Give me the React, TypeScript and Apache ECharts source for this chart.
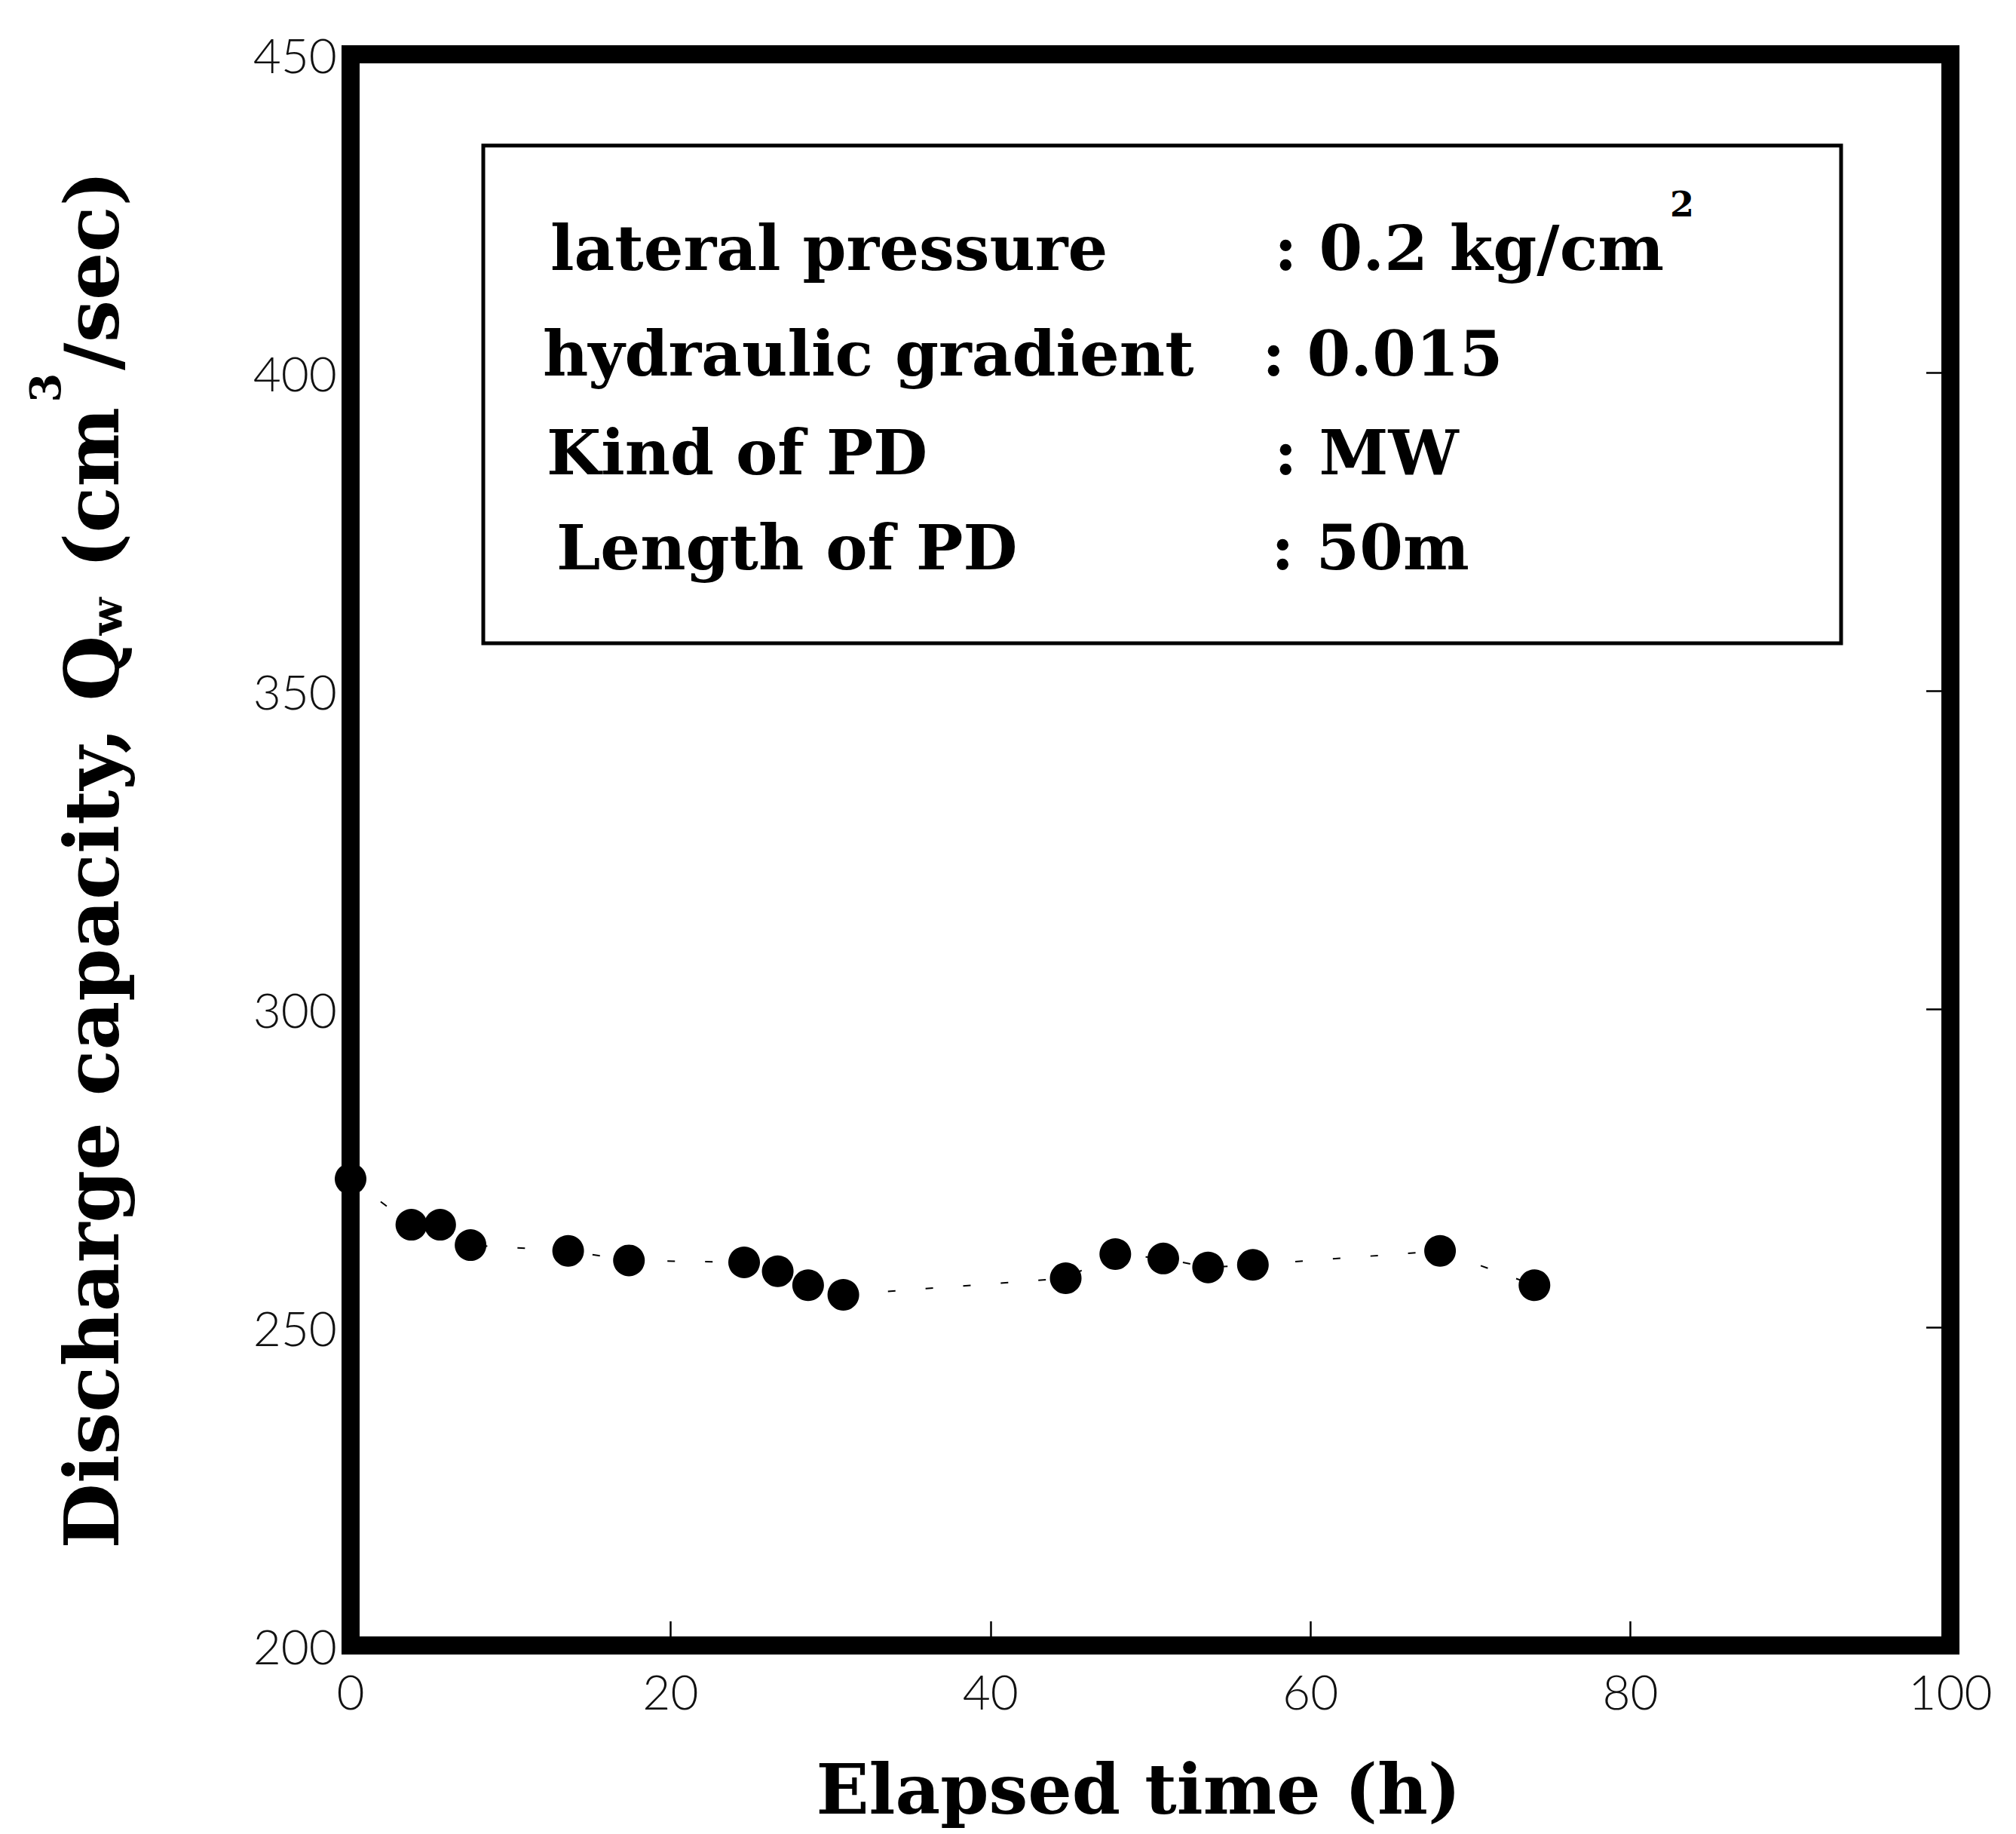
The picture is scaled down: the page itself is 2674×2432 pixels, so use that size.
import React, { useEffect, useRef } from "react";
import * as echarts from "echarts";

// ---- data ----
const timeH = [0, 3.8, 5.6, 7.5, 13.6, 17.4, 24.6, 26.7, 28.6, 30.8, 44.7, 47.8, 50.8, 53.6, 56.4, 68.1, 74.0];
const dischargeQw = [273.3, 266.1, 266.1, 262.9, 262.0, 260.5, 260.2, 258.8, 256.6, 255.1, 257.7, 261.5, 260.8, 259.4, 259.8, 262.0, 256.6];
const xTickValues = [0, 20, 40, 60, 80, 100];
const yTickValues = [200, 250, 300, 350, 400, 450];
const infoLabels = ["lateral pressure", "hydraulic gradient", "Kind of PD", "Length of PD"];
const infoValues = ["{n|: 0.2 kg/cm}{sup|2}", "{n|: 0.015}", "{n|: MW}", "{n|: 50m}"];
const xTitle = "Elapsed time (h)";
const yTitleRich = "{n|Discharge capacity, Q}{sub|w}{n| (cm}{sup|3}{n|/sec)}";

// ---- layout ----
const W = 2674;
const H = 2432;
const infoLabelPos = [
  [730, 329],
  [720, 469],
  [725, 600],
  [738, 726],
];
const infoValueX = [1690, 1674, 1690, 1686];

const SERIF = "'DejaVu Serif', serif";
const THIN = "Lato, 'DejaVu Sans', sans-serif";

export default function App() {
  const ref = useRef<HTMLDivElement>(null);

  useEffect(() => {
    document.body.style.margin = "0";
    if (!ref.current) return;
    const chart = echarts.init(ref.current, null, { renderer: "svg" });

    const infoFont = { fontFamily: SERIF, fontWeight: "bold", fontSize: 83, fill: "#000" };
    const richInfo = {
      n: { fontFamily: SERIF, fontWeight: "bold", fontSize: 83, lineHeight: 98, color: "#000", verticalAlign: "middle" },
      sup: {
        fontFamily: SERIF,
        fontWeight: "bold",
        fontSize: 46,
        lineHeight: 46,
        color: "#000",
        verticalAlign: "middle",
        padding: [0, 0, 116, 8],
      },
    };

    const graphics: any[] = [
      {
        type: "rect",
        shape: { x: 641, y: 193, width: 1801, height: 660 },
        style: { fill: "none", stroke: "#000", lineWidth: 5 },
        z: 10,
      },
    ];
    infoLabels.forEach((lab, i) => {
      graphics.push({
        type: "text",
        x: infoLabelPos[i][0],
        y: infoLabelPos[i][1],
        z: 10,
        style: {
          text: lab,
          ...infoFont,
          align: "left",
          verticalAlign: "middle",
          textAlign: "left",
          textVerticalAlign: "middle",
        },
      });
      graphics.push({
        type: "text",
        x: infoValueX[i],
        y: infoLabelPos[i][1],
        z: 10,
        style: {
          text: infoValues[i],
          rich: richInfo,
          ...infoFont,
          align: "left",
          verticalAlign: "middle",
          textAlign: "left",
          textVerticalAlign: "middle",
        },
      });
    });

    graphics.push({
      type: "text",
      x: 1510,
      y: 2373,
      z: 10,
      style: {
        text: xTitle,
        fontFamily: SERIF,
        fontWeight: "bold",
        fontSize: 92,
        fill: "#000",
        align: "center",
        verticalAlign: "middle",
        textAlign: "center",
        textVerticalAlign: "middle",
      },
    });

    graphics.push({
      type: "text",
      x: 122,
      y: 1140,
      rotation: Math.PI / 2,
      z: 10,
      style: {
        text: yTitleRich,
        fontFamily: SERIF,
        fontWeight: "bold",
        fontSize: 100,
        fill: "#000",
        align: "center",
        verticalAlign: "middle",
        textAlign: "center",
        textVerticalAlign: "middle",
        rich: {
          n: { fontFamily: SERIF, fontWeight: "bold", fontSize: 100, lineHeight: 118, color: "#000", verticalAlign: "middle" },
          sub: {
            fontFamily: SERIF,
            fontWeight: "bold",
            fontSize: 58,
            lineHeight: 58,
            color: "#000",
            verticalAlign: "middle",
            padding: [40, 4, 0, 0],
          },
          sup: {
            fontFamily: SERIF,
            fontWeight: "bold",
            fontSize: 56,
            lineHeight: 56,
            color: "#000",
            verticalAlign: "middle",
            padding: [0, 4, 124, 6],
          },
        },
      },
    });

    const labelStyle = {
      fontFamily: THIN,
      fontWeight: 300,
      fontSize: 64,
      color: "#111",
    };

    const option: any = {
      animation: false,
      backgroundColor: "#fff",
      grid: {
        left: 465,
        top: 72,
        right: W - 2587,
        bottom: H - 2182,
        show: true,
        borderColor: "#000",
        borderWidth: 24,
        backgroundColor: "transparent",
        containLabel: false,
        outerBoundsMode: "none",
      },
      xAxis: [
        {
          type: "value",
          min: xTickValues[0],
          max: xTickValues[xTickValues.length - 1],
          interval: xTickValues[1] - xTickValues[0],
          position: "bottom",
          axisLine: { show: false },
          axisTick: { show: true, inside: true, length: 32, lineStyle: { color: "#000", width: 2.5 } },
          splitLine: { show: false },
          axisLabel: { ...labelStyle, margin: 28, showMinLabel: true, showMaxLabel: true, hideOverlap: false },
        },
      ],
      yAxis: [
        {
          type: "value",
          min: yTickValues[0],
          max: yTickValues[yTickValues.length - 1],
          interval: yTickValues[1] - yTickValues[0],
          position: "left",
          axisLine: { show: false },
          axisTick: { show: false },
          splitLine: { show: false },
          axisLabel: { ...labelStyle, margin: 18, showMinLabel: true, showMaxLabel: true, hideOverlap: false },
        },
        {
          type: "value",
          min: yTickValues[0],
          max: yTickValues[yTickValues.length - 1],
          interval: yTickValues[1] - yTickValues[0],
          position: "right",
          axisLine: { show: false },
          axisTick: { show: true, inside: true, length: 32, lineStyle: { color: "#000", width: 2.5 } },
          splitLine: { show: false },
          axisLabel: { show: false },
        },
      ],
      series: [
        {
          type: "line",
          data: timeH.map((t, i) => [t, dischargeQw[i]]),
          symbol: "circle",
          symbolSize: 42,
          showSymbol: true,
          itemStyle: { color: "#000" },
          lineStyle: { color: "#000", width: 2, type: [10, 40] },
          clip: false,
          z: 5,
        },
      ],
      graphic: { elements: graphics },
    };

    chart.setOption(option);
    return () => chart.dispose();
  }, []);

  return <div ref={ref} style={{ width: W, height: H }} />;
}
